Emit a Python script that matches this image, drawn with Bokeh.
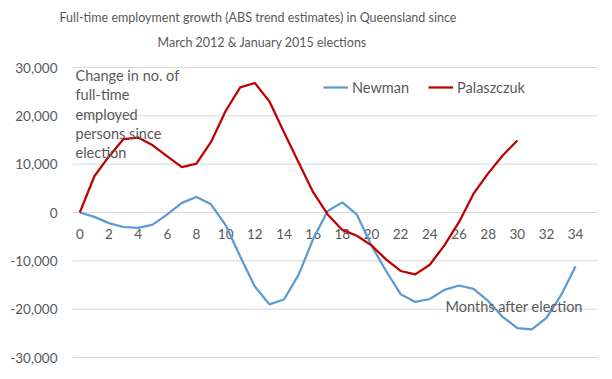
from bokeh.plotting import figure
from bokeh.models import Range1d, Label, Legend, LegendItem
from bokeh.core.properties import value
from bokeh.embed import file_html
from bokeh.resources import INLINE

months = list(range(0, 35))
newman = [0, -900, -2200, -3000, -3200, -2500, -400, 2000, 3200, 1700,
          -2600, -9100, -15300, -19000, -18000, -12900, -5500, 300, 2100, -450,
          -6800, -12100, -16900, -18500, -17900, -16000, -15100, -15800, -18300, -21600,
          -23900, -24200, -21800, -17100, -11100]
pal_months = list(range(0, 31))
palaszczuk = [0, 7500, 11600, 15200, 15500, 13900, 11600, 9400, 10100, 14600,
              21000, 25900, 26800, 23000, 16600, 10400, 4200, -400, -3600, -4800,
              -6800, -9700, -12100, -12800, -10800, -6800, -2000, 3900, 8100, 11800,
              14900]
x_ticks = list(range(0, 35, 2))
x_tick_labels = [str(m) for m in x_ticks]
y_ticks = [-30000, -20000, -10000, 0, 10000, 20000, 30000]
y_tick_labels = [f"{v:,}" for v in y_ticks]

title_lines = ["Full-time employment  growth (ABS trend estimates) in Queensland since",
               "March 2012 & January 2015 elections"]
y_note = ["Change in no. of", "full-time", "employed", "persons since", "election"]
x_note = "Months  after election"

FONT = "Lato"
GREY = "#595959"

# layout: canvas 604x371, plot area from x=72..597, y=67..357 (pixels)
W, H = 604, 371
PL, PR, PT, PB = 72, 597, 67, 357
XA, XB = -0.5, 35.5
YA, YB = -30000, 30000
xpp = (XB - XA) / (PR - PL)
ypp = (YB - YA) / (PB - PT)

p = figure(width=W, height=H, output_backend="svg", toolbar_location=None,
           x_range=Range1d(XA - PL * xpp, XB + (W - PR) * xpp),
           y_range=Range1d(YA - (H - PB) * ypp, YB + PT * ypp),
           min_border=0)
p.outline_line_color = None
p.xaxis.visible = False
p.yaxis.visible = False
p.xgrid.visible = False
p.ygrid.visible = False

# horizontal gridlines over the plot area only
p.segment(x0=[XA] * len(y_ticks), x1=[XB] * len(y_ticks), y0=y_ticks, y1=y_ticks,
          line_color="#d9d9d9", line_width=1)

# y tick labels
p.text(x=[XA] * len(y_ticks), y=y_ticks, text=y_tick_labels, text_align="right",
       text_baseline="middle", x_offset=-15, text_color=GREY, text_font=value(FONT),
       text_font_size="13.5px")

# x tick labels placed next to zero line
p.text(x=x_ticks, y=[0] * len(x_ticks), text=x_tick_labels, text_align="center",
       text_baseline="middle", y_offset=21, text_color=GREY, text_font=value(FONT),
       text_font_size="13.5px")

r1 = p.line(months, newman, line_color="#5B9BD5", line_width=2.25)
r2 = p.line(pal_months, palaszczuk, line_color="#C00000", line_width=2.25)

legend = Legend(items=[LegendItem(label="Newman", renderers=[r1]),
                       LegendItem(label="Palaszczuk", renderers=[r2])],
                orientation="horizontal", location=(323, H - 97),
                label_text_font=FONT, label_text_font_size="14.5px", label_text_color=GREY,
                background_fill_alpha=0, border_line_color=None, glyph_width=25,
                spacing=19, padding=0, margin=0, label_standoff=4)
p.add_layout(legend)

# title lines
for t, (tx, ty) in zip(title_lines, [(59, 17), (157, 42)]):
    p.add_layout(Label(x=tx, y=H - ty, x_units="screen", y_units="screen", text=t,
                       text_align="left", text_baseline="middle", text_color=GREY,
                       text_font=FONT, text_font_size="12.5px"))

for i, t in enumerate(y_note):
    p.add_layout(Label(x=75, y=H - 75 - 19.3 * i, x_units="screen", y_units="screen", text=t,
                       text_align="left", text_baseline="middle", text_color=GREY,
                       text_font=FONT, text_font_size="14.5px"))

p.add_layout(Label(x=445, y=H - 306, x_units="screen", y_units="screen", text=x_note,
                   text_align="left", text_baseline="middle", text_color=GREY,
                   text_font=FONT, text_font_size="14.5px"))

open("out.html", "w").write(file_html(p, INLINE))
